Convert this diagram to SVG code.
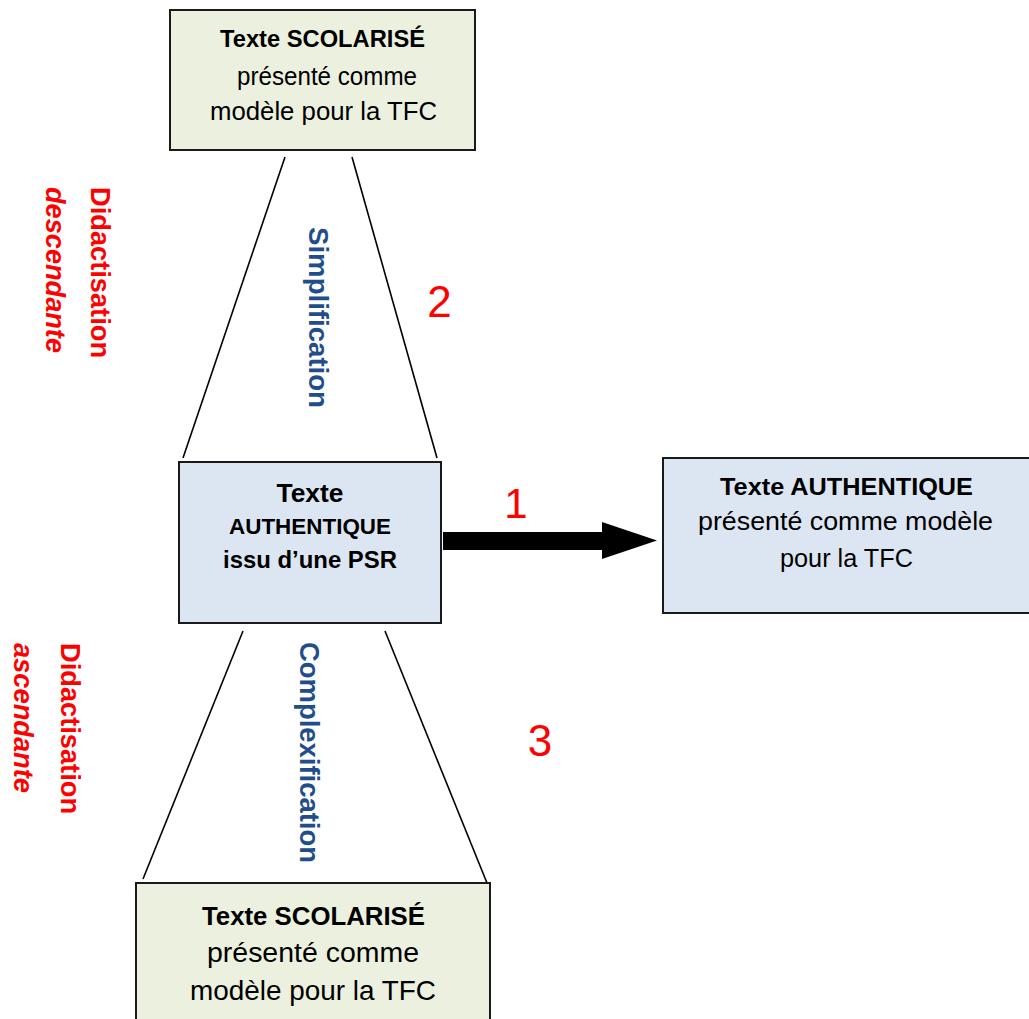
<svg xmlns="http://www.w3.org/2000/svg" width="1029" height="1019" viewBox="0 0 1029 1019">
<style>
  .box { stroke: #1a1a1a; stroke-width: 2; }
  .green { fill: #EBF1DE; }
  .blue { fill: #DCE6F2; }
  .t { font-family: "Liberation Sans", Arial, sans-serif; fill: #000; text-anchor: middle; }
  .b { font-weight: bold; }
  .red { fill: #FF0000; }
  .navy { fill: #1F4E8A; }
  .line { stroke: #000; stroke-width: 1.6; fill: none; }
  .num { font-family: "Liberation Sans", Arial, sans-serif; fill: #FF0000; text-anchor: middle; }
  .vert { font-family: "Liberation Sans", Arial, sans-serif; font-weight: bold; font-size: 27px; text-anchor: middle; }
</style>
<rect width="1029" height="1019" fill="#fff"/>

<g id="connectors">
  <line class="line" x1="285" y1="157" x2="183" y2="458"/>
  <line class="line" x1="352" y1="157" x2="437" y2="458"/>
  <line class="line" x1="243" y1="631" x2="143" y2="879"/>
  <line class="line" x1="385" y1="631" x2="487" y2="883"/>
  <polygon id="arrow1" points="443,532 602,532 602,522 657,540.5 602,559 602,550 443,550" fill="#000"/>
</g>

<g id="node-top">
  <rect class="box green" x="170" y="10" width="305" height="140"/>
  <text class="t b" x="322.5" y="47" font-size="24" textLength="205" lengthAdjust="spacingAndGlyphs">Texte SCOLARISÉ</text>
  <text class="t" x="327" y="85" font-size="25" textLength="180" lengthAdjust="spacingAndGlyphs">présenté comme</text>
  <text class="t" x="323.5" y="120" font-size="25.5" textLength="227" lengthAdjust="spacingAndGlyphs">modèle pour la TFC</text>
</g>

<g id="node-middle">
  <rect class="box blue" x="179" y="462" width="262" height="161"/>
  <text class="t b" x="310" y="502" font-size="25" textLength="67" lengthAdjust="spacingAndGlyphs">Texte</text>
  <text class="t b" x="310" y="534" font-size="22" textLength="162" lengthAdjust="spacingAndGlyphs">AUTHENTIQUE</text>
  <text class="t b" x="310" y="568" font-size="24" textLength="174" lengthAdjust="spacingAndGlyphs">issu d’une PSR</text>
</g>

<g id="node-right">
  <rect class="box blue" x="663" y="458" width="372" height="155"/>
  <text class="t b" x="846.5" y="495" font-size="24" textLength="253" lengthAdjust="spacingAndGlyphs">Texte AUTHENTIQUE</text>
  <text class="t" x="845.5" y="530" font-size="25" textLength="295" lengthAdjust="spacingAndGlyphs">présenté comme modèle</text>
  <text class="t" x="846.5" y="567" font-size="25" textLength="133" lengthAdjust="spacingAndGlyphs">pour la TFC</text>
</g>

<g id="node-bottom">
  <rect class="box green" x="136" y="883" width="354" height="140"/>
  <text class="t b" x="313.5" y="925" font-size="26" textLength="223" lengthAdjust="spacingAndGlyphs">Texte SCOLARISÉ</text>
  <text class="t" x="313" y="962" font-size="27.5" textLength="212" lengthAdjust="spacingAndGlyphs">présenté comme</text>
  <text class="t" x="313" y="1000" font-size="28" textLength="246" lengthAdjust="spacingAndGlyphs">modèle pour la TFC</text>
</g>

<g id="labels">
  <text class="num" x="516" y="518" font-size="42">1</text>
  <text class="num" x="439.5" y="317" font-size="44">2</text>
  <text class="num" x="540" y="756" font-size="44">3</text>

  <text class="vert navy" transform="translate(308.5,317.5) rotate(90)" textLength="181" lengthAdjust="spacingAndGlyphs">Simplification</text>
  <text class="vert navy" transform="translate(299.5,752.5) rotate(90)" textLength="221" lengthAdjust="spacingAndGlyphs">Complexification</text>

  <text class="vert red" transform="translate(90.5,272.5) rotate(90)" textLength="171" lengthAdjust="spacingAndGlyphs">Didactisation</text>
  <text class="vert red" font-style="italic" transform="translate(45.5,270) rotate(90)" textLength="166" lengthAdjust="spacingAndGlyphs">descendante</text>
  <text class="vert red" transform="translate(60.5,728.5) rotate(90)" textLength="171" lengthAdjust="spacingAndGlyphs">Didactisation</text>
  <text class="vert red" font-style="italic" transform="translate(13.5,718) rotate(90)" textLength="150" lengthAdjust="spacingAndGlyphs">ascendante</text>
</g>
</svg>
